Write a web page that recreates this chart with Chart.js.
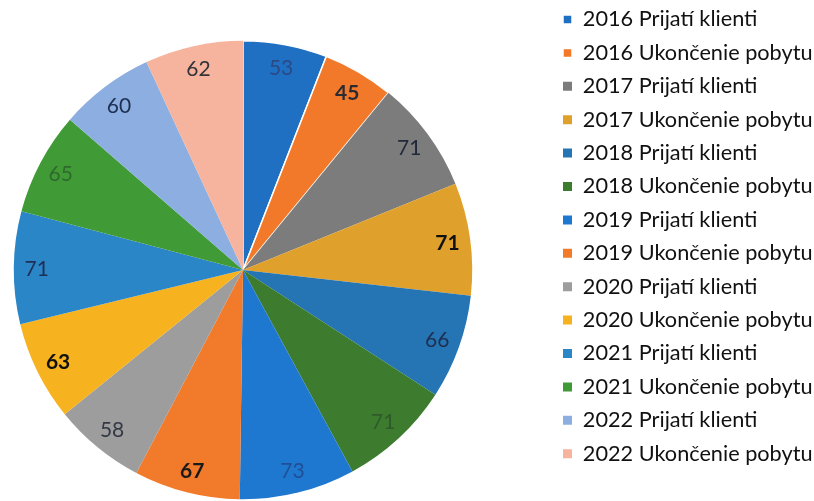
<!DOCTYPE html>
<html>
<head>
<meta charset="utf-8">
<script src="https://cdn.jsdelivr.net/npm/chart.js@4.4.0/dist/chart.umd.min.js"></script>
<style>
  html, body { margin: 0; padding: 0; background: #fff; }
</style>
</head>
<body>
<canvas id="chart" width="814" height="501"></canvas>
<script>
// Kategórie (legenda) a hodnoty výsekov
const categories = [
    "2016 Prijatí klienti", "2016 Ukončenie pobytu",
    "2017 Prijatí klienti", "2017 Ukončenie pobytu",
    "2018 Prijatí klienti", "2018 Ukončenie pobytu",
    "2019 Prijatí klienti", "2019 Ukončenie pobytu",
    "2020 Prijatí klienti", "2020 Ukončenie pobytu",
    "2021 Prijatí klienti", "2021 Ukončenie pobytu",
    "2022 Prijatí klienti", "2022 Ukončenie pobytu"
];
const values = [53, 45, 71, 71, 66, 71, 73, 67, 58, 63, 71, 65, 60, 62];

// Farby výsekov
const colors = [
    "#1f70c2", "#f2792a", "#7c7c7c", "#e0a02c", "#2574b3", "#3d7c2e", "#1f78d0",
    "#f27a2b", "#9d9d9d", "#f6b21f", "#2b86c8", "#409a36", "#8caee0", "#f6b39d"
];
const labelColors = [
    "#2a4a86", "#2b2b33", "#20283a", "#111111", "#1e2f52", "#2f5a2a", "#1f4f96",
    "#1a1a1a", "#333a44", "#111111", "#1e2f52", "#2f6a2c", "#1e2f52", "#33333a"
];
const boldLabels = [false, true, false, true, false, false, false, true, false, true, false, false, false, false];

// Popisky hodnôt priamo vo výsekoch
const sliceLabels = {
    id: "sliceLabels",
    afterDatasetsDraw(chart) {
        const ctx = chart.ctx;
        const meta = chart.getDatasetMeta(0);
        ctx.save();
        ctx.textAlign = "center";
        ctx.textBaseline = "middle";
        meta.data.forEach((arc, i) => {
            const mid = (arc.startAngle + arc.endAngle) / 2;
            const r = arc.outerRadius * 0.9;
            ctx.font = (boldLabels[i] ? "bold " : "") + "21px Lato";
            ctx.fillStyle = labelColors[i];
            ctx.fillText(values[i], arc.x + Math.cos(mid) * r, arc.y + Math.sin(mid) * r + 1);
        });
        ctx.restore();
    }
};

// Umiestnenie koláča a legendy
const placeLayout = {
    id: "placeLayout",
    afterLayout(chart) {
        chart.chartArea = { left: 13, top: 40, right: 473, bottom: 500, width: 460, height: 460 };
        const lg = chart.legend;
        const w = lg.width, h = lg.height;
        lg.left = 563 - 11.7;
        lg.right = lg.left + w;
        lg.top = -3.05;
        lg.bottom = lg.top + h;
    }
};

const ctx = document.getElementById("chart").getContext("2d");
const chart = new Chart(ctx, {
    type: "pie",
    data: {
        labels: categories,
        datasets: [{
            data: values,
            backgroundColor: colors,
            borderColor: "#ffffff",
            borderWidth: [1.5, 1.5, 0, 0, 0, 0, 0, 0, 0, 0, 0, 0, 0, 0]
        }]
    },
    options: {
        responsive: false,
        animation: false,
        plugins: {
            legend: {
                position: "right",
                align: "start",
                labels: {
                    font: { family: "Lato", size: 21.7 },
                    color: "#111111",
                    boxWidth: 9,
                    boxHeight: 9,
                    padding: 11.7
                }
            },
            tooltip: { enabled: false }
        }
    },
    plugins: [sliceLabels, placeLayout]
});
</script>
</body>
</html>
